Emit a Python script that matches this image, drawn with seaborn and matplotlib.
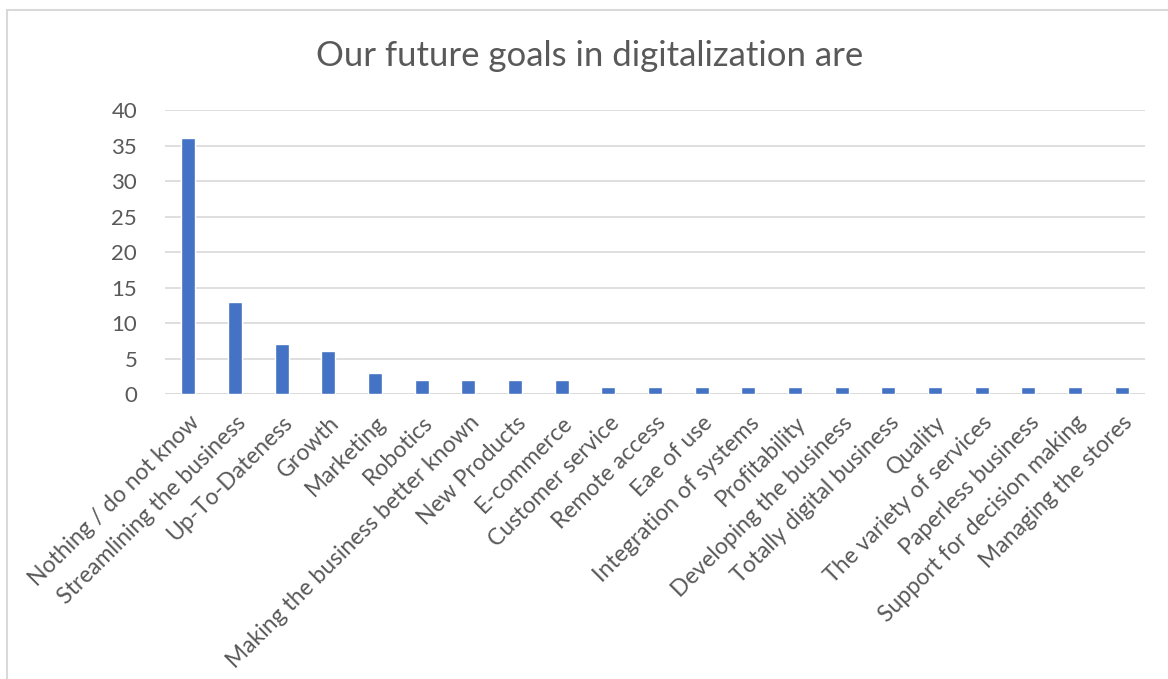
import matplotlib
matplotlib.use("Agg")
import matplotlib.pyplot as plt
import seaborn as sns
import pandas as pd
from matplotlib.patches import Rectangle

categories = [
    "Nothing / do not know",
    "Streamlining the business",
    "Up-To-Dateness",
    "Growth",
    "Marketing",
    "Robotics",
    "Making the business better known",
    "New Products",
    "E-commerce",
    "Customer service",
    "Remote access",
    "Eae of use",
    "Integration of systems",
    "Profitability",
    "Developing the business",
    "Totally digital business",
    "Quality",
    "The variety of services",
    "Paperless business",
    "Support for decision making",
    "Managing the stores",
]
counts = [36, 13, 7, 6, 3, 2, 2, 2, 2, 1, 1, 1, 1, 1, 1, 1, 1, 1, 1, 1, 1]
y_ticks = [0, 5, 10, 15, 20, 25, 30, 35, 40]
title = "Our future goals in digitalization are"

sns.set_theme(style="white")
plt.rcParams["font.family"] = ["Lato", "DejaVu Sans"]

text_color = "#595959"
grid_color = "#D9D9D9"
bar_color = "#4472C4"

df = pd.DataFrame({"goal": categories, "count": counts})

fig = plt.figure(figsize=(11.68, 6.79), dpi=100)
ax = fig.add_axes([165 / 1168, 1 - 394 / 679, 980 / 1168, 284 / 679])

sns.barplot(data=df, x="goal", y="count", color=bar_color, width=0.3,
            saturation=1, ax=ax, zorder=3)

ax.set_ylim(0, 40)
ax.set_yticks(y_ticks)
ax.set_xlim(-0.5, len(categories) - 0.5)
ax.yaxis.grid(True, color=grid_color, linewidth=1.2, zorder=0)
ax.set_axisbelow(True)
for s in ax.spines.values():
    s.set_visible(False)
ax.axhline(0, color=grid_color, linewidth=1.2, zorder=2)

ax.set_xlabel("")
ax.set_ylabel("")
ax.tick_params(axis="both", length=0, colors=text_color)
ax.tick_params(axis="y", pad=20, labelsize=16)
ax.tick_params(axis="x", pad=13)
ax.set_xticks(range(len(categories)))
ax.set_xticklabels(categories, rotation=45, ha="right", rotation_mode="anchor",
                   color=text_color, fontsize=16.5)

fig.text(590 / 1168, 1 - 56 / 679, title, ha="center", va="center",
         fontsize=25, color=text_color)

# Chart frame
fig.patches.append(Rectangle((7 / 1168, -0.1), 1.2, 1.1 - 10 / 679,
                             transform=fig.transFigure, fill=False,
                             edgecolor="#D9D9D9", linewidth=1.5))

fig.savefig("out.png", dpi=100, facecolor="white")
